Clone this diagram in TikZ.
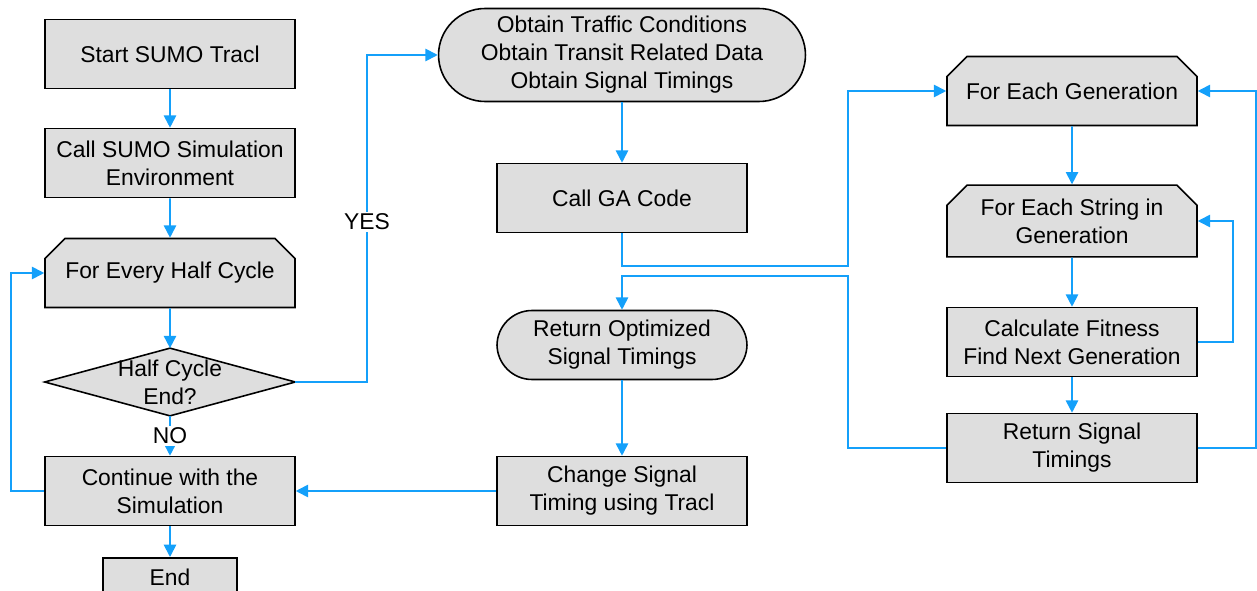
\documentclass[tikz,border=0pt]{standalone}
\usepackage{fontspec}
\setmainfont{Liberation Sans}
\usepackage{tikz}
\usetikzlibrary{shapes.misc,arrows.meta,backgrounds}
\definecolor{flowblue}{RGB}{20,160,250}
\definecolor{boxgray}{RGB}{222,222,222}

\begin{document}
\begin{tikzpicture}[x=0.02cm,y=-0.02cm,
  font=\fontsize{13}{15.9}\selectfont,
  box/.style={draw=black,line width=0.9pt,fill=boxgray,align=center,minimum width=5cm,minimum height=1.38cm,inner sep=2pt},
  loopbox/.style={box,chamfered rectangle,chamfered rectangle corners={north west,north east},chamfered rectangle sep=0.2cm},
  term/.style={box,rounded corners=0.7cm},
  decide/.style={align=center,minimum width=5cm,minimum height=1.34cm,inner sep=0pt},
  flow/.style={draw=flowblue,line width=1pt,-{Triangle[length=7pt,width=7pt]}},
  lbl/.style={fill=white,inner sep=1pt}]
\useasboundingbox (0,0) rectangle (1257,591);

% left column
\node[box] (start) at (170,54) {Start SUMO Tracl};
\node[box] (call) at (170,163) {Call SUMO Simulation\\Environment};
\node[loopbox] (half) at (170,273) {For Every Half Cycle};
\node[decide] (dec) at (170,382) {Half Cycle\\End?};
\node[box] (cont) at (170,491) {Continue with the\\Simulation};
\node[box,minimum width=2.68cm,minimum height=0.8cm,anchor=north] (end) at (170,557) {End};

\begin{scope}[on background layer]
\draw[line width=0.9pt,fill=boxgray] (dec.west) -- (dec.north) -- (dec.east) -- (dec.south) -- cycle;
\end{scope}

% middle column
\node[term,minimum width=7.34cm,minimum height=1.86cm,rounded corners=0.93cm] (obt) at (622,55) {Obtain Traffic Conditions\\Obtain Transit Related Data\\Obtain Signal Timings};
\node[box] (ga) at (622,198) {Call GA Code};
\node[term] (ret) at (622,345) {Return Optimized\\Signal Timings};
\node[box] (chg) at (622,491) {Change Signal\\Timing using Tracl};

% right column
\node[loopbox] (gen) at (1072,91) {For Each Generation};
\node[loopbox] (str) at (1072,221) {For Each String in\\Generation};
\node[box] (fit) at (1072,342) {Calculate Fitness\\Find Next Generation};
\node[box] (rst) at (1072,448) {Return Signal\\Timings};

\foreach \a/\b in {start/call,call/half,half/dec,cont/end,obt/ga,ret/chg,gen/str,str/fit,fit/rst}
  \draw[flow] (\a) -- (\b);

\draw[flow] (dec) -- node[lbl] (no) {NO} (cont);
\draw[flow] (dec.east) -- ++(72,0) |- (obt.west);
\node[lbl] (yes) at (367,222) {YES};
\draw[flow] (cont.west) -- ++(-33,0) |- (half.west);
\draw[flow] (chg) -- (cont);
\draw[flow] (ga.south) |- (848,266) |- (gen.west);
\draw[flow] (rst.west) -| (848,276) -| (ret.north);
\draw[flow] (fit.east) -- ++(35,0) |- (str.east);
\draw[flow] (rst.east) -- ++(58,0) |- (gen.east);

\end{tikzpicture}
\end{document}
